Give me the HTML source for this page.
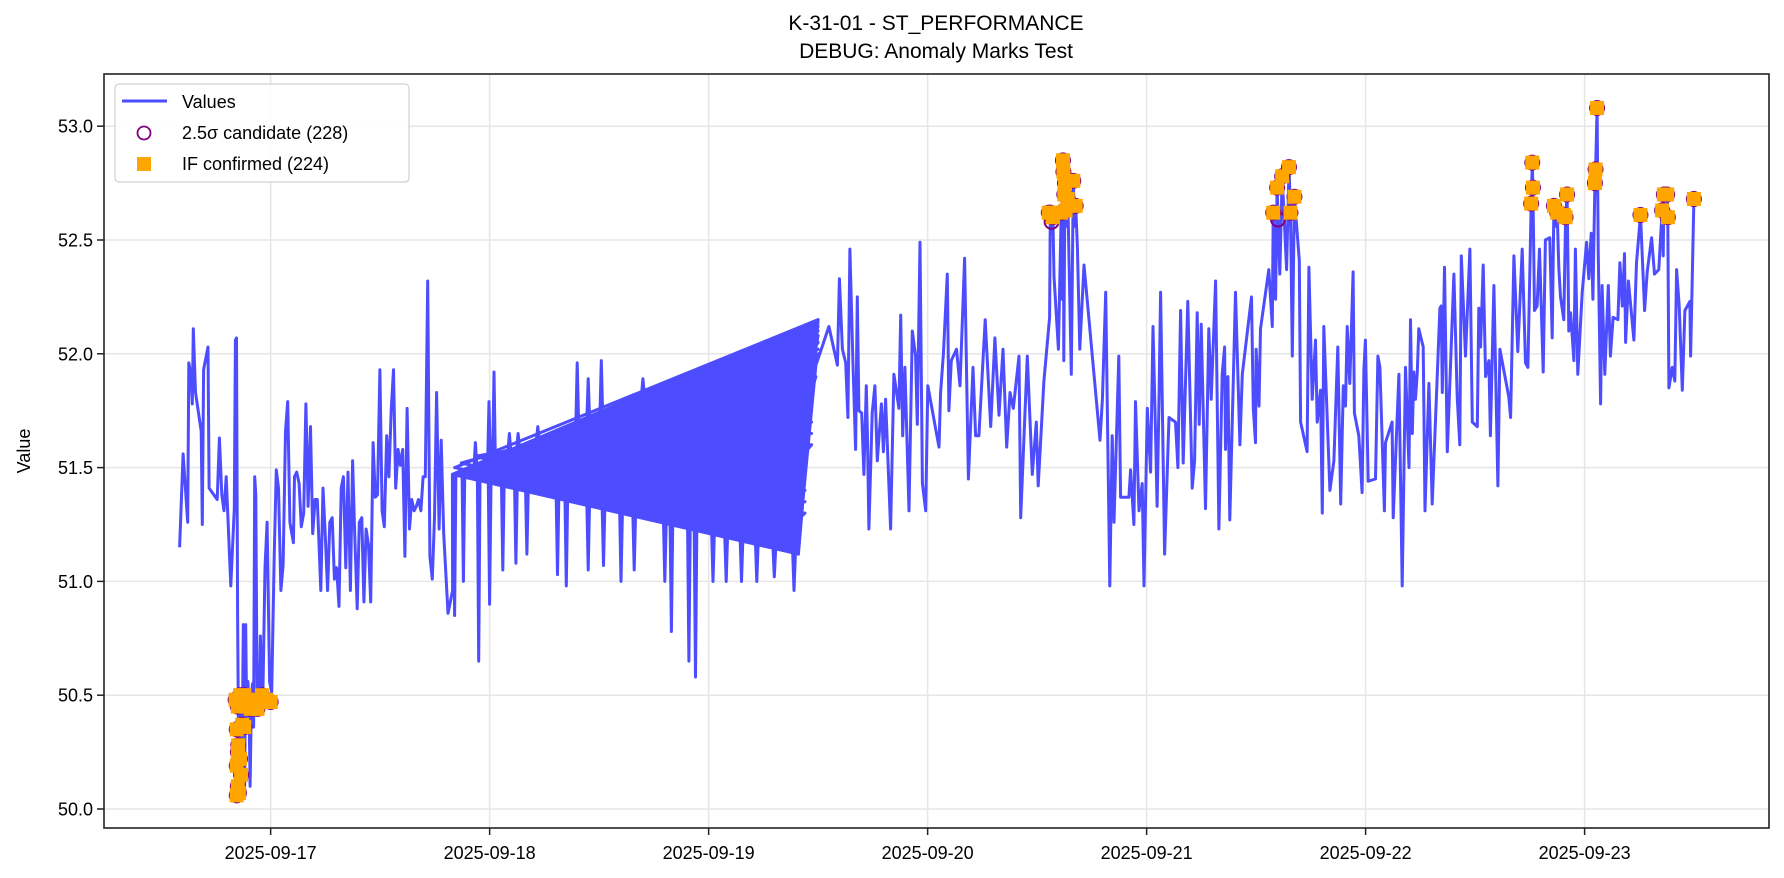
<!DOCTYPE html>
<html><head><meta charset="utf-8">
<style>
html,body{margin:0;padding:0;background:#fff;}
svg{display:block;font-family:"Liberation Sans","DejaVu Sans",sans-serif;}
</style></head>
<body>
<svg id="chart" width="1784" height="878" viewBox="0 0 1784 878" xmlns="http://www.w3.org/2000/svg">
<rect x="0" y="0" width="1784" height="878" fill="#fff"/>
<g id="grid"></g>
<g id="series"></g>
<g id="cands"></g>
<g id="confs"></g>
<rect x="104" y="74" width="1665" height="754" fill="none" stroke="#222" stroke-width="1.6"/>
<g id="axes"></g>
<text x="936" y="30" text-anchor="middle" font-size="21">K-31-01 - ST_PERFORMANCE</text>
<text x="936" y="58" text-anchor="middle" font-size="21">DEBUG: Anomaly Marks Test</text>
<text x="30" y="451" text-anchor="middle" font-size="18" transform="rotate(-90 30 451)">Value</text>
<g>
<rect x="115" y="84" width="294" height="98" rx="4" fill="#fff" fill-opacity="0.85" stroke="#d0d0d0" stroke-width="1.2"/>
<line x1="122" y1="101" x2="167" y2="101" stroke="#4d4dff" stroke-width="3"/>
<text x="182" y="108" font-size="18">Values</text>
<circle cx="144" cy="133" r="6.5" fill="none" stroke="#800080" stroke-width="1.8"/>
<text x="182" y="139" font-size="18">2.5σ candidate (228)</text>
<rect x="137" y="157" width="14" height="14" fill="#ffa500"/>
<text x="182" y="170" font-size="18">IF confirmed (224)</text>
</g>
</svg>
<script>
// days since 2025-09-17 00:00
const segAT=[-0.416,-0.400,-0.379,-0.374,-0.364,-0.358,-0.353,-0.343,-0.317,-0.312,-0.306,-0.286,-0.281,-0.244,-0.234,-0.223,-0.213,-0.203,-0.192,-0.182,-0.166,-0.161,-0.156,-0.151,-0.145,-0.140,-0.135,-0.130,-0.125,-0.119,-0.114,-0.109,-0.104,-0.099,-0.094,-0.088,-0.083,-0.078,-0.073,-0.068,-0.062,-0.057,-0.052,-0.047,-0.042,-0.036,-0.026,-0.016,-0.005,0.005,0.016,0.026,0.036,0.047,0.057,0.068,0.078,0.088,0.104,0.109,0.119,0.130,0.140,0.151,0.161,0.171,0.182,0.192,0.203,0.213,0.229,0.239,0.249,0.260,0.270,0.281,0.291,0.301,0.312,0.322,0.332,0.343,0.353,0.364,0.374,0.384,0.395,0.405,0.416,0.426,0.436,0.447,0.457,0.468,0.478,0.488,0.499,0.509,0.519,0.530,0.540,0.551,0.561,0.571,0.582,0.592,0.603,0.613,0.623,0.634,0.644,0.655,0.665,0.675,0.686,0.696,0.706,0.717,0.727,0.738,0.748,0.758,0.769,0.779,0.790,0.810,0.831];
const segAV=[51.15,51.56,51.26,51.96,51.91,51.78,52.11,51.83,51.66,51.25,51.93,52.03,51.41,51.36,51.63,51.38,51.31,51.46,51.21,50.98,51.32,52.06,52.07,50.86,50.06,50.46,50.11,50.26,50.81,50.06,50.81,50.36,50.56,50.46,50.10,50.48,50.55,50.36,51.46,51.38,50.46,50.56,50.48,50.76,50.56,50.48,51.06,51.26,50.56,50.51,51.11,51.49,51.41,50.96,51.07,51.66,51.79,51.26,51.17,51.46,51.48,51.43,51.24,51.30,51.78,51.33,51.68,51.21,51.36,51.36,50.96,51.41,51.21,50.96,51.26,51.28,51.01,51.06,50.89,51.41,51.46,51.06,51.48,50.96,51.53,51.21,50.88,51.26,51.28,50.91,51.23,51.16,50.91,51.61,51.37,51.38,51.93,51.31,51.24,51.64,51.46,51.76,51.93,51.41,51.58,51.51,51.58,51.11,51.76,51.23,51.36,51.31,51.33,51.36,51.31,51.46,51.46,52.32,51.11,51.01,51.28,51.83,51.23,51.62,51.21,50.86,50.96];
// interleaved (out-of-order) region: early-series points alternate with late points
const fanAT=[0.83,0.84,0.87,0.90,0.935,0.95,0.97,0.997,1.02,1.04,1.07,1.09,1.11,1.13,1.15,1.18,1.20,1.22,1.25,1.28,1.31,1.34,1.37,1.40,1.42,1.45,1.48,1.51,1.54,1.57,1.60,1.63,1.66,1.70,1.73,1.76,1.80,1.83,1.86,1.89,1.91,1.94,1.97,2.00,2.03,2.06,2.08,2.11,2.14,2.17,2.20,2.22,2.25,2.28,2.31,2.34,2.37,2.39,2.41];
const fanAV=[51.47,51.50,51.52,51.48,51.55,51.50,51.47,51.52,51.50,51.46,51.55,51.45,51.50,51.44,51.52,51.42,51.48,51.45,51.40,51.50,51.42,51.46,51.40,51.48,51.38,51.45,51.42,51.36,51.44,51.38,51.40,51.35,51.42,51.33,51.40,51.32,51.36,51.30,51.38,51.28,51.34,51.30,51.26,51.32,51.25,51.30,51.24,51.28,51.22,51.26,51.20,51.24,51.20,51.22,51.18,51.22,51.16,51.20,51.15];
const fanBT=[2.50,2.41,2.49,2.41,2.47,2.44,2.50,2.41,2.47,2.44,2.50,2.41,2.49,2.44,2.50,2.41,2.47,2.44,2.50,2.41,2.47,2.44,2.49,2.41,2.47,2.44,2.50,2.41,2.47,2.44,2.50,2.41,2.47,2.44,2.50,2.41,2.49,2.44,2.49,2.41,2.47,2.44,2.50,2.41,2.47,2.44,2.50,2.41,2.47,2.44,2.50,2.41,2.49,2.44,2.50,2.41,2.47,2.44,2.49];
const fanBV=[52.15,51.2,51.95,51.15,51.8,51.35,52.05,51.12,51.7,51.5,52.1,51.25,51.9,51.4,52.0,51.15,51.6,51.3,52.12,51.2,51.85,51.45,51.95,51.13,51.75,51.35,52.08,51.22,51.65,51.5,52.02,51.15,51.8,51.3,52.1,51.18,51.9,51.4,51.98,51.14,51.7,51.55,52.05,51.2,51.85,51.35,52.12,51.16,51.6,51.45,52.0,51.25,51.9,51.3,52.08,51.15,51.75,51.5,51.95];
// narrow excursions out of the dense region
const upSpikeT=[0.935,0.997,1.02,1.09,1.13,1.22,1.40,1.45,1.51,1.70];
const upSpikeV=[51.61,51.79,51.92,51.65,51.65,51.68,51.96,51.89,51.97,51.89];
const dipT=[0.84,0.88,0.95,1.00,1.06,1.12,1.17,1.31,1.35,1.45,1.52,1.60,1.66,1.80,1.83,1.91,1.94,2.02,2.08,2.15,2.22,2.30,2.39];
const dipV=[50.85,51.00,50.65,50.90,51.05,51.08,51.12,51.03,50.98,51.05,51.07,51.00,51.05,51.00,50.78,50.65,50.58,51.00,51.00,51.00,51.00,51.02,50.96];
const segCT=[2.504,2.549,2.588,2.597,2.611,2.626,2.636,2.645,2.659,2.671,2.679,2.686,2.699,2.709,2.720,2.725,2.732,2.747,2.759,2.770,2.789,2.798,2.808,2.831,2.846,2.869,2.877,2.886,2.896,2.915,2.930,2.945,2.953,2.965,2.976,2.991,3.001,3.052,3.059,3.072,3.090,3.097,3.108,3.132,3.148,3.169,3.186,3.207,3.219,3.234,3.263,3.288,3.307,3.326,3.344,3.361,3.376,3.391,3.417,3.425,3.455,3.478,3.496,3.505,3.531,3.557,3.560,3.566,3.572,3.577,3.597,3.610,3.615,3.618,3.620,3.622,3.627,3.633,3.640,3.656,3.665,3.671,3.676,3.684,3.695,3.714,3.787,3.798,3.813,3.832,3.843,3.851,3.873,3.881,3.919,3.927,3.942,3.949,3.965,3.980,3.988,4.003,4.018,4.029,4.041,4.048,4.056,4.064,4.082,4.102,4.132,4.143,4.155,4.167,4.188,4.208,4.219,4.231,4.240,4.249,4.269,4.284,4.295,4.315,4.330,4.345,4.356,4.360,4.371,4.380,4.391,4.406,4.426,4.437,4.479,4.487,4.497,4.500,4.513,4.520,4.558,4.574,4.578,4.589,4.596,4.608,4.619,4.639,4.650,4.657,4.665,4.675,4.697,4.703,4.733,4.741,4.756,4.771,4.779,4.794,4.802,4.809,4.837,4.855,4.873,4.886,4.898,4.908,4.916,4.928,4.943,4.949,4.969,4.984,4.992,4.999,5.012,5.045,5.056,5.065,5.086,5.091,5.121,5.126,5.152,5.167,5.182,5.198,5.205,5.213,5.220,5.228,5.236,5.243,5.263,5.271,5.289,5.304,5.339,5.345,5.350,5.360,5.373,5.403,5.418,5.430,5.437,5.456,5.476,5.487,5.510,5.517,5.525,5.537,5.548,5.563,5.570,5.586,5.604,5.613,5.654,5.662,5.677,5.695,5.715,5.730,5.741,5.756,5.761,5.764,5.771,5.783,5.794,5.811,5.821,5.841,5.852,5.860,5.867,5.875,5.882,5.890,5.905,5.913,5.920,5.928,5.936,5.951,5.958,5.969,5.989,6.009,6.019,6.030,6.038,6.047,6.050,6.057,6.062,6.073,6.080,6.092,6.108,6.118,6.130,6.152,6.161,6.172,6.182,6.187,6.200,6.225,6.237,6.255,6.274,6.286,6.306,6.319,6.339,6.354,6.359,6.362,6.377,6.380,6.385,6.400,6.412,6.420,6.432,6.446,6.458,6.481,6.484,6.491,6.499];
const segCV=[51.99,52.12,51.95,52.33,52.02,51.96,51.72,52.46,51.95,51.58,52.25,51.75,51.74,51.47,51.86,51.65,51.23,51.74,51.86,51.53,51.78,51.57,51.80,51.23,51.91,51.76,52.17,51.64,51.94,51.31,52.10,51.99,51.69,52.49,51.43,51.31,51.86,51.59,51.83,52.00,52.35,51.75,51.97,52.02,51.86,52.42,51.45,51.94,51.64,51.64,52.15,51.68,52.07,51.73,52.02,51.59,51.83,51.76,51.99,51.28,51.99,51.47,51.70,51.42,51.88,52.16,52.62,52.56,52.60,52.34,52.02,52.62,52.24,52.85,52.80,51.97,52.75,52.56,52.68,51.91,52.76,52.56,52.65,52.47,52.02,52.39,51.62,51.80,52.27,50.98,51.64,51.26,51.99,51.37,51.37,51.49,51.25,51.79,51.31,51.43,50.98,51.76,51.48,52.12,51.64,51.33,51.77,52.27,51.12,51.72,51.70,51.50,52.19,51.52,52.23,51.41,51.53,52.18,51.69,52.13,51.32,52.11,51.80,52.32,51.23,51.91,52.03,51.58,51.90,51.27,51.69,52.27,51.60,51.91,52.25,51.76,51.61,52.02,51.77,52.11,52.37,52.12,52.62,52.24,52.73,52.35,52.78,52.37,52.82,52.62,51.99,52.69,52.41,51.70,51.57,52.38,51.80,52.06,51.70,51.84,51.30,52.12,51.40,51.53,52.03,51.34,51.86,51.77,52.12,51.87,52.36,51.74,51.64,51.39,51.93,52.06,51.44,51.45,51.99,51.94,51.31,51.61,51.70,51.28,51.91,50.98,51.94,51.50,52.15,51.65,51.92,51.80,51.92,52.11,52.03,51.31,51.87,51.34,52.20,52.21,51.83,52.38,51.57,52.35,51.81,51.60,52.43,51.99,52.46,51.70,51.68,52.20,52.03,52.39,51.90,51.97,51.64,52.30,51.42,52.02,51.81,51.72,52.43,52.01,52.46,51.96,51.94,52.66,52.84,52.73,52.19,52.21,52.46,51.92,52.50,52.51,52.07,52.65,52.56,52.62,52.38,52.25,52.15,52.60,52.70,52.10,52.18,51.97,52.46,51.91,52.27,52.49,52.33,52.53,52.24,52.75,52.81,53.08,52.46,51.78,52.30,51.91,52.30,51.99,52.16,52.15,52.40,52.21,52.44,52.05,52.32,52.06,52.40,52.61,52.19,52.36,52.51,52.35,52.37,52.63,52.43,52.70,52.70,52.60,51.85,51.94,51.88,52.37,52.21,51.84,52.19,52.23,51.99,52.30,52.68];
// IF confirmed anomalies
const confT=[-0.155,-0.150,-0.145,-0.155,-0.150,-0.148,-0.140,-0.155,-0.130,-0.120,-0.160,-0.140,-0.120,-0.100,-0.080,-0.060,-0.040,-0.020,0.000,-0.090,-0.060,-0.150,-0.135,-0.110,3.553,3.560,3.572,3.610,3.618,3.620,3.627,3.640,3.665,3.676,3.624,3.630,4.578,4.596,4.619,4.650,4.657,4.675,5.756,5.761,5.764,5.860,5.875,5.913,5.920,5.905,6.047,6.050,6.057,6.255,6.354,6.362,6.377,6.380,6.499];
const confV=[50.06,50.10,50.07,50.19,50.25,50.28,50.22,50.35,50.37,50.36,50.48,50.50,50.50,50.48,50.47,50.48,50.50,50.48,50.47,50.44,50.44,50.45,50.15,50.45,52.62,52.62,52.60,52.62,52.85,52.80,52.75,52.68,52.76,52.65,52.70,52.63,52.62,52.73,52.78,52.82,52.62,52.69,52.66,52.84,52.73,52.65,52.62,52.60,52.70,52.61,52.75,52.81,53.08,52.61,52.63,52.70,52.70,52.60,52.68];
// 2.5 sigma candidates (extra, not confirmed)
const candT=[3.566,4.60];
const candV=[52.58,52.59];
const yTicks=[50.0,50.5,51.0,51.5,52.0,52.5,53.0];
const xTickDays=[0,1,2,3,4,5,6];
const xTickLabels=["2025-09-17","2025-09-18","2025-09-19","2025-09-20","2025-09-21","2025-09-22","2025-09-23"];

const L=104,R=1769,T=74,B=828;
const tMin=-0.761,tMax=6.842,vMin=49.9165,vMax=53.2293;
function xs(t){return L+(t-tMin)/(tMax-tMin)*(R-L);}
function ys(v){return B-(v-vMin)/(vMax-vMin)*(B-T);}
const NS="http://www.w3.org/2000/svg";
function mk(tag,attrs,parent){const e=document.createElementNS(NS,tag);for(const k in attrs)e.setAttribute(k,attrs[k]);parent.appendChild(e);return e;}
const grid=document.getElementById('grid'),axes=document.getElementById('axes');
yTicks.forEach(v=>{
  const y=ys(v);
  const g=mk('line',{x1:L,x2:R,y1:y,y2:y,stroke:'#e6e6e6','stroke-width':1.5},grid);
  
  
  const tk=mk('line',{x1:L-7,x2:L,y1:y,y2:y,stroke:'#222','stroke-width':1.5},axes);
  
  
  const tx=mk('text',{x:L-11,y:y+6.5,'text-anchor':'end','font-size':18},axes);
  tx.textContent=v.toFixed(1);
  
  
});
xTickDays.forEach((d,i)=>{
  const x=xs(d);
  const g=mk('line',{x1:x,x2:x,y1:T,y2:B,stroke:'#e6e6e6','stroke-width':1.5},grid);
  
  
  const tk=mk('line',{x1:x,x2:x,y1:B,y2:B+7,stroke:'#222','stroke-width':1.5},axes);
  
  
  const tx=mk('text',{x:x,y:B+31,'text-anchor':'middle','font-size':18},axes);
  tx.textContent=xTickLabels[i];
  
  
});
const series=document.getElementById('series');
// envelope of the dense interleaved region
let bTopI=0;fanBV.forEach((v,i)=>{if(v>fanBV[bTopI])bTopI=i;});
let bLowI=0;fanBV.forEach((v,i)=>{if(v<fanBV[bLowI])bLowI=i;});
const a0t=fanAT[0],a0v=fanAV[0];
const topT=fanBT[bTopI],topV=fanBV[bTopI],lowT=fanBT[bLowI],lowV=fanBV[bLowI];
function topEdge(t){return a0v+(topV-a0v)*(t-a0t)/(topT-a0t);}
function lowEdge(t){return a0v+(lowV-a0v)*(t-a0t)/(lowT-a0t);}
const fd='M'+xs(a0t)+' '+ys(a0v)+'L'+xs(topT)+' '+ys(topV)+'L'+xs(lowT)+' '+ys(lowV)+'Z';
const fan=mk('path',{d:fd,fill:'#4d4dff',stroke:'#4d4dff','stroke-width':3,'stroke-linejoin':'round'},series);


let sd='';
upSpikeT.forEach((t,i)=>{sd+='M'+xs(t-0.006).toFixed(1)+' '+ys(topEdge(t-0.006)).toFixed(1)+'L'+xs(t).toFixed(1)+' '+ys(upSpikeV[i]).toFixed(1)+'L'+xs(t+0.006).toFixed(1)+' '+ys(topEdge(t+0.006)).toFixed(1);});
dipT.forEach((t,i)=>{sd+='M'+xs(t-0.006).toFixed(1)+' '+ys(lowEdge(t-0.006)).toFixed(1)+'L'+xs(t).toFixed(1)+' '+ys(dipV[i]).toFixed(1)+'L'+xs(t+0.006).toFixed(1)+' '+ys(lowEdge(t+0.006)).toFixed(1);});
const sp=mk('path',{d:sd,fill:'#4d4dff',stroke:'#4d4dff','stroke-width':3,'stroke-linejoin':'round'},series);


// build full series
const allT=[],allV=[];
segAT.forEach((t,i)=>{allT.push(t);allV.push(segAV[i]);});
const nf=Math.min(fanAT.length,fanBT.length);
for(let i=0;i<nf;i++){allT.push(fanAT[i]);allV.push(fanAV[i]);allT.push(fanBT[i]);allV.push(fanBV[i]);}
segCT.forEach((t,i)=>{allT.push(t);allV.push(segCV[i]);});
let d='';
allT.forEach((t,i)=>{d+=(i?'L':'M')+xs(t).toFixed(1)+' '+ys(allV[i]).toFixed(1);});
const p=mk('path',{d:d,fill:'none',stroke:'#4d4dff','stroke-width':3,'stroke-linejoin':'round'},series);


const cands=document.getElementById('cands');
const allCT=candT.concat(confT),allCV=candV.concat(confV);
allCT.forEach((t,i)=>{
  const c=mk('circle',{cx:xs(t),cy:ys(allCV[i]),r:7,fill:'none',stroke:'#800080','stroke-width':2},cands);
  
  
});
const confs=document.getElementById('confs');
confT.forEach((t,i)=>{
  const r=mk('rect',{x:xs(t)-7,y:ys(confV[i])-7,width:14,height:14,fill:'#ffa500'},confs);
  
  
});
</script>
</body></html>
